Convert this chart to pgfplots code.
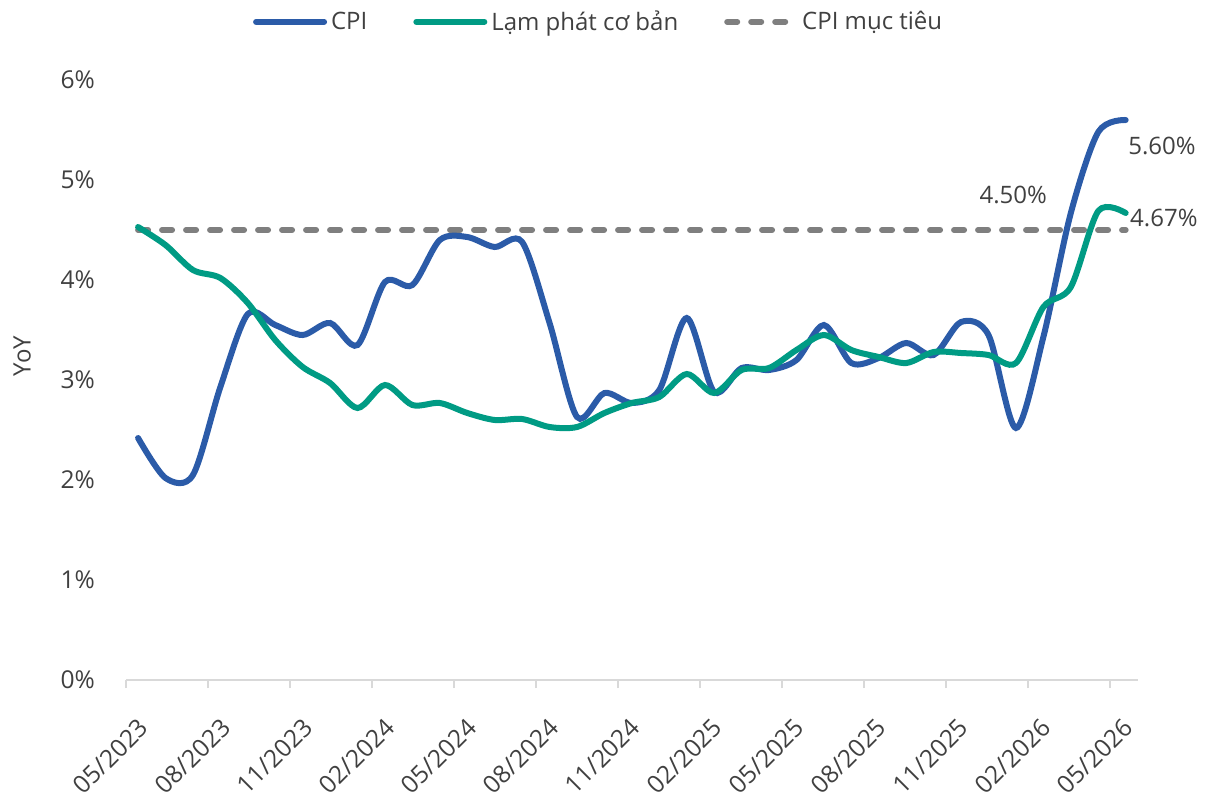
\documentclass[border=0pt]{standalone}
\usepackage{fontspec}
\setmainfont{Open Sans}
\usepackage{pgfplots}
\usepackage{pgfplotstable}
\pgfplotsset{compat=1.18}
\definecolor{cpiblue}{HTML}{2B5BA8}
\definecolor{coreteal}{HTML}{009B84}
\definecolor{tgray}{HTML}{7F7F7F}
\definecolor{txt}{HTML}{404040}
\definecolor{axgray}{HTML}{D9D9D9}

\pgfplotstableread{
i cpi core
0 2.42 4.53
1 2.02 4.35
2 2.05 4.10
3 2.93 4.02
4 3.66 3.77
5 3.55 3.40
6 3.45 3.13
7 3.57 2.97
8 3.35 2.72
9 3.98 2.95
10 3.95 2.75
11 4.40 2.77
12 4.43 2.67
13 4.33 2.60
14 4.38 2.61
15 3.57 2.53
16 2.63 2.53
17 2.87 2.67
18 2.77 2.77
19 2.90 2.83
20 3.62 3.06
21 2.88 2.87
22 3.12 3.10
23 3.10 3.12
24 3.20 3.30
25 3.55 3.45
26 3.17 3.30
27 3.22 3.23
28 3.37 3.17
29 3.25 3.28
30 3.58 3.27
31 3.45 3.25
32 2.52 3.17
33 3.43 3.73
34 4.67 3.93
35 5.48 4.69
36 5.60 4.67
}\datatable

\pgfplotstableread{
i t
0 4.5
36 4.5
}\targettable

\begin{document}
\begin{tikzpicture}
\useasboundingbox (0,0) rectangle (604.5bp,400bp);
\begin{axis}[
  at={(63bp,60bp)}, anchor=south west,
  scale only axis, width=506bp, height=300bp,
  xmin=-0.44, xmax=36.45, ymin=0, ymax=6,
  clip=false,
  axis x line=bottom, axis y line=left,
  x axis line style={-, draw=axgray, line width=1bp},
  y axis line style={draw=none},
  xtick={-0.44,2.55,5.54,8.53,11.52,14.51,17.49,20.48,23.47,26.46,29.45,32.44,35.43},
  xticklabels={05/2023,08/2023,11/2023,02/2024,05/2024,08/2024,11/2024,02/2025,05/2025,08/2025,11/2025,02/2026,05/2026},
  x tick style={draw=axgray, line width=1bp},
  major tick length=4bp,
  tick align=outside,
  ytick={0,1,2,3,4,5,6},
  yticklabels={0\%,1\%,2\%,3\%,4\%,5\%,6\%},
  y tick style={draw=none},
  tick label style={font=\fontsize{12.3bp}{14bp}\selectfont, text=txt},
  xticklabel style={rotate=45, anchor=north east, inner sep=1bp, yshift=-13bp, xshift=-5bp},
  yticklabel style={xshift=-8bp},
  /pgf/number format/assume math mode=true,
  ylabel={YoY},
  ylabel style={at={(axis description cs:-0.1026,0.54)}, anchor=center, font=\fontsize{12bp}{14bp}\selectfont, text=txt},
  legend columns=3,
  legend style={draw=none, fill=none, at={(axis description cs:0.468,1.097)}, anchor=center,
    font=\fontsize{12bp}{14bp}\selectfont, text=txt,
    /tikz/every even column/.append style={column sep=21bp}},
  legend image code/.code={\draw[#1] (0bp,0bp) -- (34bp,0bp);},
]
\addplot[tgray, line width=3bp, line cap=round, dash pattern=on 5bp off 7bp, forget plot] table[x=i, y=t] {\targettable};
\addplot[cpiblue, line width=3bp, smooth, tension=0.5, line cap=round] table[x=i, y=cpi] {\datatable};
\addlegendentry{CPI}
\addplot[coreteal, line width=3bp, smooth, tension=0.5, line cap=round] table[x=i, y=core] {\datatable};
\addlegendentry{Lạm phát cơ bản}
\addlegendimage{tgray, line width=3bp, line cap=round, dash pattern=on 5bp off 7bp}
\addlegendentry{CPI mục tiêu}
\node[anchor=west, text=txt, font=\fontsize{12bp}{14bp}\selectfont, inner sep=0pt] at (axis cs:36.08,5.34) {5.60\%};
\node[anchor=west, text=txt, font=\fontsize{12bp}{14bp}\selectfont, inner sep=0pt] at (axis cs:36.15,4.62) {4.67\%};
\node[anchor=center, text=txt, font=\fontsize{12bp}{14bp}\selectfont, inner sep=0pt] at (axis cs:31.9,4.85) {4.50\%};
\end{axis}
\end{tikzpicture}
\end{document}
